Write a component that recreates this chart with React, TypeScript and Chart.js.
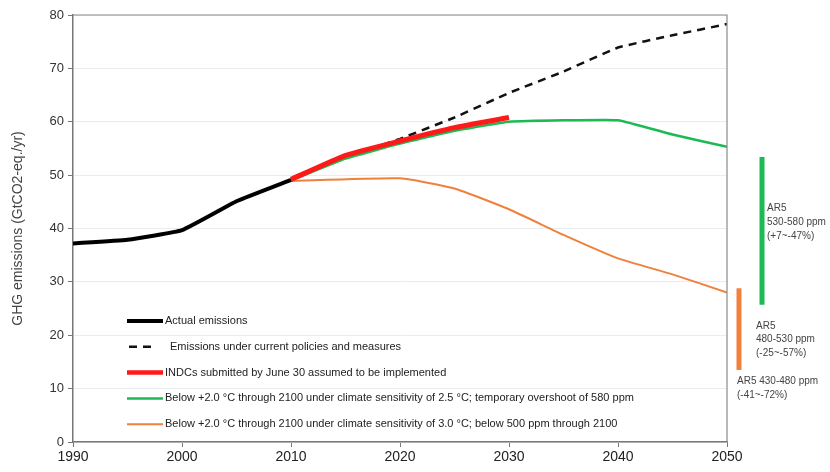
import React, { useEffect, useRef } from "react";
import { Chart, registerables } from "chart.js";

Chart.register(...registerables);

const actualYears = [1990, 1995, 2000, 2005, 2010];
const actualValues = [37.2, 37.9, 39.7, 45.1, 49.1];

const policyYears = [2010, 2015, 2020, 2025, 2030, 2035, 2040, 2045, 2050];
const policyValues = [49.1, 53.3, 56.8, 60.8, 65.4, 69.4, 73.9, 76.2, 78.3];

const indcYears = [2010, 2015, 2020, 2025, 2030];
const indcValues = [49.2, 53.7, 56.4, 58.9, 60.8];

const greenYears = [2010, 2015, 2020, 2025, 2030, 2040, 2045, 2050];
const greenValues = [49.0, 53.1, 55.9, 58.3, 60.0, 60.3, 57.6, 55.3];

const orangeYears = [2010, 2020, 2025, 2030, 2035, 2040, 2045, 2050];
const orangeValues = [48.9, 49.4, 47.5, 43.6, 38.8, 34.4, 31.4, 28.0];

const seriesLabels = [
  "Actual emissions",
  "Emissions under current policies and measures",
  "INDCs submitted by June 30 assumed to be implemented",
  "Below +2.0 \u00B0C through 2100 under climate sensitivity of 2.5 \u00B0C; temporary overshoot of 580 ppm",
  "Below +2.0 \u00B0C through 2100 under climate sensitivity of 3.0 \u00B0C; below 500 ppm through 2100",
];

const xTicks = [1990, 2000, 2010, 2020, 2030, 2040, 2050];

// AR5 ranges (GtCO2-eq./yr)
const ar5GreenRange = [25.7, 53.4];
const ar5OrangeRange = [13.5, 28.8];
const ar5GreenText = ["AR5", "530-580 ppm", "(+7~-47%)"];
const ar5OrangeText = ["AR5", "480-530 ppm", "(-25~-57%)"];
const ar5LowText = ["AR5 430-480 ppm", "(-41~-72%)"];

const GREEN = "#1db954";
const ORANGE = "#f0803c";
const RED = "#ff1a1a";

function pts(xs: number[], ys: number[]) {
  return xs.map((x, i) => ({ x, y: ys[i] }));
}

const FONT = "'Liberation Sans', Arial, sans-serif";

const extrasPlugin = {
  id: "extras",
  afterDraw(chart: any) {
    const { ctx, chartArea } = chart;
    const ys = chart.scales.y;
    ctx.save();
    // top and right borders of plot
    ctx.strokeStyle = "#8a8a8a";
    ctx.lineWidth = 1.2;
    ctx.beginPath();
    ctx.moveTo(chartArea.left, chartArea.top);
    ctx.lineTo(chartArea.right, chartArea.top);
    ctx.lineTo(chartArea.right, chartArea.bottom);
    ctx.stroke();

    // legend inside the plot
    const ds = chart.data.datasets;
    const lx = chartArea.left + 54;
    const ly0 = chartArea.top + 306;
    const step = 25.8;
    ctx.font = `11px ${FONT}`;
    ctx.textBaseline = "middle";
    ctx.textAlign = "left";
    ds.forEach((d: any, i: number) => {
      const y = ly0 + i * step;
      ctx.strokeStyle = d.borderColor;
      ctx.lineWidth = Math.min(d.borderWidth, 4.5);
      ctx.setLineDash(d.borderDash || []);
      ctx.beginPath();
      if (d.borderDash) {
        ctx.moveTo(lx + 2, y);
        ctx.lineTo(lx + 30, y);
      } else {
        ctx.moveTo(lx, y);
        ctx.lineTo(lx + 36, y);
      }
      ctx.stroke();
      ctx.setLineDash([]);
      ctx.fillStyle = "#222";
      ctx.fillText(d.label, lx + (d.borderDash ? 43 : 38), y);
    });

    // AR5 range bars
    const gx = chartArea.right + 35;
    const ox = chartArea.right + 12;
    ctx.lineWidth = 5;
    ctx.strokeStyle = GREEN;
    ctx.beginPath();
    ctx.moveTo(gx, ys.getPixelForValue(ar5GreenRange[1]));
    ctx.lineTo(gx, ys.getPixelForValue(ar5GreenRange[0]));
    ctx.stroke();
    ctx.strokeStyle = ORANGE;
    ctx.beginPath();
    ctx.moveTo(ox, ys.getPixelForValue(ar5OrangeRange[1]));
    ctx.lineTo(ox, ys.getPixelForValue(ar5OrangeRange[0]));
    ctx.stroke();

    ctx.font = `10px ${FONT}`;
    ctx.fillStyle = "#444";
    ar5GreenText.forEach((t, i) => ctx.fillText(t, chartArea.right + 40, 208 + i * 14));
    ar5OrangeText.forEach((t, i) => ctx.fillText(t, chartArea.right + 29, 326 + i * 13.5));
    ar5LowText.forEach((t, i) => ctx.fillText(t, chartArea.right + 10, 381 + i * 14));
    ctx.restore();
  },
};

export default function App() {
  const ref = useRef<HTMLCanvasElement | null>(null);
  useEffect(() => {
    if (!ref.current) return;
    const chart = new Chart(ref.current, {
      type: "line",
      data: {
        datasets: [
          {
            label: seriesLabels[0],
            data: pts(actualYears, actualValues),
            borderColor: "#000",
            borderWidth: 4,
            pointRadius: 0,
            tension: 0.12,
            order: 1,
          },
          {
            label: seriesLabels[1],
            data: pts(policyYears, policyValues),
            borderColor: "#111",
            borderWidth: 2.5,
            borderDash: [8, 6],
            pointRadius: 0,
            tension: 0.1,
            order: 3,
          },
          {
            label: seriesLabels[2],
            data: pts(indcYears, indcValues),
            borderColor: RED,
            borderWidth: 5,
            pointRadius: 0,
            tension: 0.12,
            order: 0,
          },
          {
            label: seriesLabels[3],
            data: pts(greenYears, greenValues),
            borderColor: GREEN,
            borderWidth: 2.5,
            pointRadius: 0,
            tension: 0.1,
            order: 2,
          },
          {
            label: seriesLabels[4],
            data: pts(orangeYears, orangeValues),
            borderColor: ORANGE,
            borderWidth: 2,
            pointRadius: 0,
            tension: 0.15,
            order: 4,
          },
        ] as any,
      },
      options: {
        animation: false,
        responsive: false,
        layout: { padding: { top: 15, right: 103, left: 10, bottom: 0 } },
        plugins: { legend: { display: false }, tooltip: { enabled: false } },
        scales: {
          x: {
            type: "linear",
            min: 1990,
            max: 2050,
            afterBuildTicks: (s: any) => {
              s.ticks = xTicks.map((v) => ({ value: v }));
            },
            afterFit: (s: any) => {
              s.height = 30;
            },
            ticks: {
              color: "#222",
              font: { family: FONT, size: 14 },
              padding: 2,
              callback: (v: any) => String(v),
              maxRotation: 0,
            },
            grid: { drawOnChartArea: false, tickLength: 5, tickColor: "#777" },
            border: { color: "#777", width: 1.5 },
          },
          y: {
            min: 0,
            max: 80,
            ticks: {
              stepSize: 10,
              color: "#333",
              font: { family: FONT, size: 13 },
              padding: 4,
            },
            afterFit: (s: any) => {
              s.width = 63;
            },
            grid: { color: "#ebebeb", lineWidth: 1, tickLength: 5, tickColor: "#777" },
            border: { color: "#777", width: 1.5 },
            title: {
              display: true,
              text: "GHG emissions (GtCO2-eq./yr)",
              color: "#444",
              font: { family: FONT, size: 14 },
              padding: { top: 0, bottom: 6 },
            },
          },
        },
      },
      plugins: [extrasPlugin],
    });
    return () => chart.destroy();
  }, []);
  return (
    <div style={{ position: "fixed", left: 0, top: 0, width: 830, height: 472, background: "#fff" }}>
      <canvas ref={ref} width={830} height={472} style={{ display: "block" }} />
    </div>
  );
}
